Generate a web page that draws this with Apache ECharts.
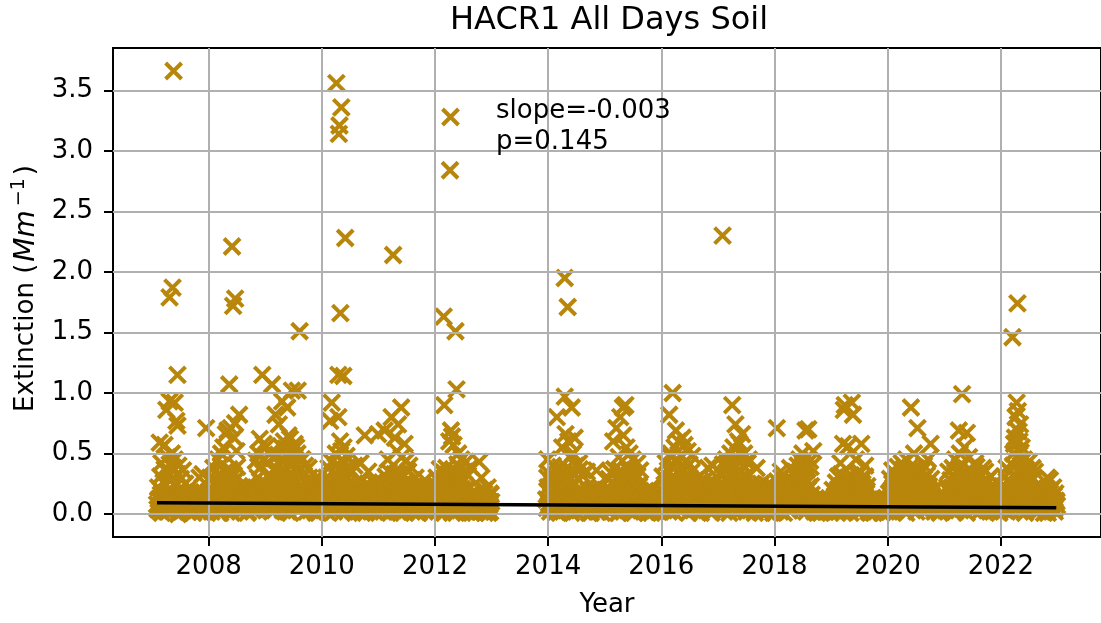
<!DOCTYPE html>
<html>
<head>
<meta charset="utf-8">
<title>HACR1 All Days Soil</title>
<script src="https://cdn.jsdelivr.net/npm/echarts@6/dist/echarts.min.js"></script>
<style>
  html, body { margin: 0; padding: 0; background: #fff; }
  #chart { width: 1101px; height: 623px; }
</style>
</head>
<body>
<div id="chart"></div>
<script>
// tick labels
const xTicks = [2008, 2010, 2012, 2014, 2016, 2018, 2020, 2022];
const yTicks = [0, 0.5, 1, 1.5, 2, 2.5, 3, 3.5];

// weekly background readings, one value every 7 days from the start day
const w2007 = [.08,.22,.03,.31,.14,.05,.26,.37,.1,.02,.19,.34,.07,.28,.12,.38,.04,.23,.16,.33,.01,.2,.29,.09,.36,.13,.25,
  .06,.17,.02,.12,.18,.08,.15,.03,.11,.17,.05,.14,.09,.18,.02,.13,.07,.16,.04,.12,.18];
const w2008 = [.12,.3,.04,.21,.38,.09,.17,.27,.02,.33,.14,.4,.07,.24,.19,.35,.05,.29,.11,.37,.16,.01,.26,.32,.08,.2,.39,.13,.23,
  .03,.15,.22,.07,.18,.1,.23,.02,.13,.2,.06,.16,.09,.21,.04,
  .18,.3,.08,.38,.14,.25,.45,.11];
const w2009 = [.2,.42,.06,.33,.5,.15,.27,.46,.03,.38,.22,.49,.11,.31,.44,.08,.36,.18,.48,.25,.02,.41,.13,.34,.47,.09,.29,.43,.17,.5,.05,.37,.23,.45,.12,.32,.4,
  .07,.24,.14,.3,.03,.19,.27,.1,.22,.01,.16,.28,.06,.2,.12];
const w2010 = [.1,.26,.04,.19,.3,.12,.38,.06,.27,.43,.15,.02,.33,.21,.41,.09,.29,.36,.05,.24,.42,.13,.31,.18,.39,.07,.26,.35,.11,.22,.4,.16,
  .03,.2,.09,.26,.14,.01,.18,.23,.07,.12,.25,.04,.17,.21,.08,.15,.26,.02,.19,.11];
const w2011 = [.05,.2,.11,.26,.02,
  .17,.31,.08,.25,.35,.13,.03,.28,.19,.33,.06,.22,.34,.1,.29,.01,.24,.15,.32,.07,.27,.18,.35,.12,.21,
  .04,.16,.23,.09,.19,.02,.14,.22,.06,.18,.11,.23,.03,.15,.2,.08,.13,.21,.01,.17,.1,.19];
const w2012 = [.14,.3,.06,.22,.37,.1,.27,.02,.34,.18,.38,.08,.25,.31,.04,.2,.36,.12,.28,.01,.33,.16,.24,.38,.07,.29,.13,.35,.05,.21,.32,.11,
  .03,.12,.17,.06,.14,.01,.1,.16,.08,.13,.02,.15,.09,.17,.04,.11,.14,.01,.08,.16];
const w2013 = [.12,.3];
const w2014 = [.18,.33,.05,.26,.4,.11,.3,.02,.36,.21,.14,.39,.08,.28,.34,.04,.23,.38,.12,.31,.17,.01,.35,.25,.09,.4,.15,.29,.06,.37,.2,.32,.1,
  .03,.16,.22,.07,.19,.12,.01,.2,.14,.05,.21,.09,.17,.02,.13,.22,.06,.18,.11];
const w2015 = [.07,.2,.13,.29,.03,.34,.16,.25,.37,.09,.22,.31,.01,.27,.36,.12,.19,.33,.06,.24,.37,.14,.3,.02,.21,.35,.1,.28,.17,.32,.05,.23,.36,.11,
  .04,.15,.08,.19,.12,.01,.17,.06,.13,.19,.03,.1,.16,.07,.18,.02,.14,.09];
const w2016 = [.15,.31,.06,.24,.42,.11,.36,.02,.28,.47,.19,.08,.39,.26,.45,.13,.33,.04,.48,.21,.37,.1,.3,.44,.16,.01,.41,.25,.35,
  .07,.2,.28,.12,.24,.03,.17,.27,.09,.22,.14,.28,.05,.19,.25,.1,.16,.01,.23,.13,.26,.06,.18];
const w2017 = [.09,.23,.34,.04,.41,.17,.29,.45,.12,.37,.01,.26,.43,.2,.32,.07,.39,.15,.44,.27,.05,.35,.22,.4,.11,.31,.02,.42,.18,
  .06,.16,.25,.1,.2,.03,.14,.23,.08,.18,.25,.01,.12,.21,.07,.17,.24,.04,.15,.2,.09,.13,.22];
const w2018 = [.05,.18,.27,.1,.22,.02,.3,.14,.25,.07,.2,.29,.12,.03,.24,.17,.28,.08,.21,
  .35,.11,.4,.26,.06,.33,.18,.41,.14,.29,.02,.37,.22,.09,.39,.16,
  .04,.11,.07,.13,.01,.09,.12,.05,.1,.03,.13,.08,.02,.11,.06,.12,.04];
const w2019 = [.08,.2,.03,.15,.26,.11,.31,.06,.22,.33,.14,.01,.28,.18,.09,.3,.24,.04,.32,.13,.19,.27,.07,.33,.16,.02,.25,.29,.1,.21,.05,.31,.17,.23,
  .02,.09,.12,.05,.13,.01,.08,.11,.04,.13,.07,.1,.02,.12,.06,.09,.13,.03];
const w2020 = [.04,.17,.29,.1,.36,.22,.02,.33,.14,.39,.26,.07,.31,.19,.37,.12,.24,.01,.35,.28,.09,.39,.16,.3,.05,.21,.38,.13,.27,.34,.08,.2,.36,.11,.25,.03,.32,.18,.23,.06,.29,.15,.2,
  .02,.1,.13,.05,.11,.01,.08,.13,.04];
const w2021 = [.06,.14,.22,.35,.1,.28,.03,.38,.17,.31,.24,.08,.36,.13,.27,.39,.05,.21,.33,.15,.01,.29,.37,.11,.25,.19,.34,.07,.3,.39,.14,.23,.02,.32,.18,.26,.09,.35,.12,.28,.04,.2,.31,.16,.24,.08,
  .03,.11,.06,.13,.01,.09];
const w2022 = [.1,.23,.04,.31,.17,.38,.08,.27,.35,.13,.02,.4,.21,.3,.06,.36,.15,.25,.39,.11,.33,.19,.01,.37,.24,.09,.32,.16,.28,.38,
  .05,.14,.22,.08,.18,.03,.2,.12,.22,.06,.16,.1,.21,.01,.14,.19,.07,.12,.22,.04,.17,.1];

// mid-week background readings, 3 days after the weekly ones
const m2007 = [.04,.12,.07,.16,.01,.1,.14,.05,.18,.09,.02,.13,.06,.17,.11,.03,.15,.08,.12,0,.16,.06,.1,.14,.03,.18,.07,.11,.02,.15,.09,.05,.13,.01,.1,.16,.04,.12,.07,.14,.02,.09,.15,.05,.11,.03,.13,.08];
const m2008 = [.06,.14,.02,.1,.17,.05,.12,.22,.08,.15,.01,.19,.11,.04,.25,.13,.07,.16,.21,.03,.12,.18,.09,.27,.05,.14,.2,.1,.02,.13,.07,.16,.04,.11,.15,.01,.09,.14,.06,.12,.03,.17,.08,.11,.05,.15,.12,.2,.07,.24,.1,.16];
const m2009 = [.13,.24,.07,.3,.16,.02,.21,.11,.27,.05,.18,.33,.09,.14,.25,.03,.2,.12,.29,.07,.17,.23,.01,.15,.28,.1,.19,.06,.26,.13,.22,.04,.17,.31,.08,.14,.2,.02,.11,.16,.05,.13,.09,.17,.03,.12,.07,.15,.01,.1,.14,.06];
const m2010 = [.05,.13,.08,.17,.02,.21,.11,.26,.06,.15,.19,.03,.24,.1,.14,.29,.07,.18,.01,.22,.12,.27,.04,.16,.2,.09,.25,.13,.03,.18,.11,.06,.14,.02,.1,.16,.05,.12,.08,.15,.01,.11,.17,.04,.09,.13,.06,.16,.02,.12,.07,.14];
const m2011 = [.09,.03,.14,.07,.12,.18,.04,.22,.1,.15,.01,.2,.13,.06,.24,.09,.17,.02,.21,.11,.16,.05,.19,.12,.23,.03,.14,.08,.2,.1,.02,.12,.07,.15,.04,.11,.01,.13,.08,.16,.05,.1,.03,.14,.09,.12,.02,.15,.06,.11,.04,.13];
const m2012 = [.07,.16,.02,.11,.2,.05,.14,.24,.09,.18,.03,.13,.22,.07,.17,.01,.26,.12,.19,.06,.15,.23,.04,.1,.21,.13,.08,.18,.02,.14,.11,.05,.09,.01,.12,.06,.1,.03,.13,.07,.11,.02,.09,.05,.12,.01,.08,.04,.11,.06,.02,.1];
const m2013 = [.05,.22];
const m2014 = [.09,.02,.15,.07,.21,.12,.04,.18,.26,.1,.01,.16,.23,.06,.13,.19,.03,.28,.11,.17,.05,.22,.14,.08,.25,.02,.18,.12,.2,.04,.15,.09,.13,.03,.1,.06,.14,.01,.08,.12,.04,.11,.07,.15,.02,.1,.05,.13,.08,.01,.12,.06];
const m2015 = [.04,.12,.08,.16,.02,.19,.1,.14,.24,.06,.17,.01,.21,.13,.09,.26,.05,.18,.11,.22,.03,.15,.2,.08,.13,.27,.01,.17,.1,.23,.06,.14,.19,.04,.1,.07,.13,.02,.09,.12,.05,.11,.01,.14,.08,.03,.12,.06,.1,.02,.13,.07];
const m2016 = [.08,.19,.03,.14,.25,.1,.21,.05,.17,.3,.12,.02,.23,.15,.27,.07,.2,.11,.33,.04,.18,.24,.09,.28,.13,.06,.22,.16,.19,.03,.13,.09,.17,.05,.12,.2,.01,.15,.1,.18,.06,.14,.08,.16,.02,.12,.19,.07,.11,.15,.04,.1];
const m2017 = [.12,.05,.18,.1,.24,.02,.16,.27,.08,.2,.14,.31,.04,.19,.11,.25,.07,.22,.15,.29,.03,.17,.12,.26,.06,.21,.09,.23,.14,.03,.11,.07,.15,.01,.12,.18,.05,.09,.14,.02,.11,.16,.06,.1,.13,.03,.08,.12,.05,.15,.01,.1];
const m2018 = [.02,.11,.07,.15,.04,.13,.09,.18,.01,.12,.06,.16,.1,.03,.14,.08,.19,.05,.11,.24,.13,.07,.21,.16,.28,.04,.18,.11,.25,.09,.2,.14,.06,.23,.12,.07,.02,.09,.05,.1,.03,.08,.01,.07,.04,.09,.02,.06,.1,.03,.08,.05];
const m2019 = [.05,.12,.09,.18,.02,.14,.21,.07,.16,.11,.24,.04,.13,.19,.08,.22,.15,.01,.17,.1,.23,.06,.14,.2,.11,.03,.18,.12,.25,.07,.15,.1,.19,.04,.06,.01,.08,.03,.1,.05,.07,.02,.09,.04,.11,.06,.01,.08,.05,.1,.02,.07];
const m2020 = [.09,.02,.13,.2,.06,.17,.11,.25,.04,.15,.21,.08,.18,.12,.27,.03,.14,.22,.1,.19,.05,.16,.24,.09,.13,.2,.02,.17,.11,.23,.06,.15,.26,.1,.18,.04,.14,.21,.08,.12,.17,.05,.11,.07,.03,.09,.05,.1,.02,.07,.04,.08];
const m2021 = [.03,.08,.12,.19,.06,.15,.22,.1,.17,.02,.24,.13,.07,.2,.11,.26,.04,.16,.21,.09,.14,.23,.06,.18,.12,.27,.03,.15,.2,.08,.17,.11,.22,.05,.14,.19,.1,.24,.07,.13,.18,.02,.15,.09,.2,.12,.04,.09,.02,.07,.05,.1];
const m2022 = [.06,.14,.19,.03,.22,.1,.16,.26,.08,.2,.13,.24,.05,.17,.29,.11,.21,.02,.18,.25,.09,.15,.23,.12,.06,.2,.14,.27,.1,.17,.03,.12,.08,.15,.02,.11,.06,.14,.09,.01,.12,.07,.16,.04,.1,.13,.05,.09,.15,.02,.11,.07];

// higher readings: [day of year, extinction]
const p2007 = [[139,3.66],[132,1.87],[113,1.79],[164,1.15],[113,.93],[146,.92],[92,.86],[157,.77],[164,.73],[49,.59],[81,.57],[128,.5],[146,.45],[113,.41],[100,.47],[170,.4],[306,.3],[325,.33],[349,.71],[60,.42]];
const p2008 = [[151,2.21],[171,1.78],[158,1.72],[133,1.07],[197,.82],[143,.71],[111,.66],[164,.63],[171,.75],[122,.69],[95,.55],[80,.5],[180,.52],[304,.44],[346,1.15],[330,.62],[320,.5],[355,.58],[60,.45]];
const p2009 = [[3,.55],[44,1.07],[66,.82],[88,.74],[109,.93],[142,.88],[172,1.02],[210,1.02],[222,1.51],[120,.6],[150,.65],[190,.58],[100,.56],[160,.62],[200,.55],[240,.45],[130,.54],[280,.38]];
const p2010 = [[94,3.56],[126,3.36],[114,3.21],[110,3.14],[151,2.28],[120,1.66],[107,1.15],[139,1.14],[64,.92],[107,.8],[54,.77],[126,.52],[118,.6],[140,.55],[160,.48],[277,.65],[363,.66],[250,.42],[90,.5],[300,.35]];
const p2011 = [[95,2.14],[85,.8],[147,.88],[127,.74],[106,.63],[169,.58],[40,.69],[120,.52],[150,.47],[180,.44],[60,.45],[200,.4],[240,.3],[300,.28]];
const p2012 = [[100,3.28],[97,2.84],[56,1.63],[132,1.51],[139,1.03],[60,.9],[103,.69],[110,.64],[120,.57],[92,.6],[145,.41],[230,.39],[318,.2],[170,.45],[200,.43],[150,.5],[285,.43],[300,.3],[340,.22],[355,.17]];
const p2013 = [[360,.45]];
const p2014 = [[107,1.95],[126,1.71],[107,.97],[56,.8],[152,.88],[112,.66],[171,.63],[130,.6],[90,.55],[160,.5],[140,.47],[312,.36],[200,.42],[250,.35]];
const p2015 = [[117,.88],[133,.9],[75,.71],[54,.6],[140,.55],[100,.8],[120,.65],[160,.5],[180,.45],[90,.47],[210,.42]];
const p2016 = [[73,1.0],[51,.82],[94,.69],[137,.63],[110,.6],[85,.55],[150,.57],[170,.52],[60,.5],[200,.48],[300,.38],[330,.4]];
const p2017 = [[30,2.3],[92,.9],[113,.74],[156,.66],[130,.6],[100,.55],[170,.5],[80,.5],[140,.58],[200,.45],[60,.42],[250,.38]];
const p2018 = [[15,.71],[200,.69],[218,.7],[250,.52],[180,.5],[160,.45],[230,.44],[40,.35],[100,.38]];
const p2019 = [[88,.9],[82,.86],[141,.82],[134,.92],[77,.58],[195,.58],[110,.56],[188,.34],[160,.45],[60,.42],[220,.4]];
const p2020 = [[150,.88],[192,.71],[277,.58],[234,.4],[120,.45],[170,.5],[90,.42],[260,.45]];
const p2021 = [[115,.99],[94,.69],[146,.67],[130,.55],[100,.5],[160,.47],[70,.45],[200,.42],[250,.38]];
const p2022 = [[107,1.74],[75,1.46],[102,.92],[124,.74],[91,.63],[128,.51],[95,.8],[110,.85],[115,.68],[100,.7],[85,.58],[120,.6],[135,.55],[80,.5],[150,.45],[317,.28],[300,.3],[180,.43],[220,.35]];

// linear fit end points
const trendX = [2007.088, 2022.98];
const trendY = [0.093, 0.052];

// [year, first day, values] -> readings every 7 days
const weekly = [
  [2007, 32, w2007], [2008, 2, w2008], [2009, 5, w2009], [2010, 1, w2010],
  [2011, 4, w2011], [2012, 3, w2012], [2013, 352, w2013],
  [2014, 2, w2014], [2015, 5, w2015], [2016, 0, w2016], [2017, 4, w2017],
  [2018, 2, w2018], [2019, 3, w2019], [2020, 1, w2020], [2021, 5, w2021], [2022, 2, w2022],
  [2007, 35, m2007], [2008, 5, m2008], [2009, 8, m2009], [2010, 4, m2010],
  [2011, 7, m2011], [2012, 6, m2012], [2013, 355, m2013],
  [2014, 5, m2014], [2015, 8, m2015], [2016, 3, m2016], [2017, 7, m2017],
  [2018, 5, m2018], [2019, 6, m2019], [2020, 4, m2020], [2021, 8, m2021], [2022, 5, m2022]
];
const peaks = [
  [2007, p2007], [2008, p2008], [2009, p2009], [2010, p2010], [2011, p2011], [2012, p2012],
  [2013, p2013], [2014, p2014], [2015, p2015], [2016, p2016], [2017, p2017], [2018, p2018],
  [2019, p2019], [2020, p2020], [2021, p2021], [2022, p2022]
];

const points = [];
weekly.forEach(([yr, start, vals]) => {
  vals.forEach((v, i) => points.push([yr + (start + 7 * i) / 365, v]));
});
peaks.forEach(([yr, list]) => {
  list.forEach(([d, v]) => points.push([yr + d / 365, v]));
});

const FONT = 'DejaVu Sans';
const GOLD = '#b8860b';

const chart = echarts.init(document.getElementById('chart'), null, { renderer: 'canvas' });
chart.setOption({
  animation: false,
  backgroundColor: '#fff',
  textStyle: { fontFamily: FONT },
  title: {
    text: 'HACR1 All Days Soil',
    left: 450, top: 5, padding: 0,
    textStyle: { fontSize: 32, fontWeight: 'normal', color: '#000', fontFamily: FONT }
  },
  grid: {
    left: 113, top: 48, width: 995, height: 492,
    show: true, borderColor: '#000', borderWidth: 2, backgroundColor: 'transparent', z: 3
  },
  xAxis: {
    type: 'value',
    min: 2006.31, max: 2023.77,
    minInterval: 2, maxInterval: 2,
    z: 3,
    name: 'Year', nameLocation: 'middle', nameGap: 55,
    nameTextStyle: { fontSize: 26, color: '#000', fontFamily: FONT },
    axisLine: { show: false, onZero: false },
    axisTick: { show: true, length: 9, lineStyle: { color: '#000', width: 2 }, customValues: xTicks },
    axisLabel: {
      fontSize: 26, color: '#000', margin: 17, fontFamily: FONT,
      customValues: xTicks,
      formatter: v => String(Math.round(v))
    },
    splitLine: { show: true, lineStyle: { color: '#b0b0b0', width: 2 } }
  },
  yAxis: {
    type: 'value',
    min: -0.19, max: 3.85,
    minInterval: 0.5, maxInterval: 0.5,
    z: 3,
    name: 'Extinction ({it|Mm}{sup|−1})', nameLocation: 'middle', nameGap: 70,
    nameTextStyle: {
      fontSize: 26, color: '#000', fontFamily: FONT, padding: [0, 0, 0, 8],
      rich: {
        it: { fontSize: 28, fontStyle: 'italic', fontFamily: FONT, color: '#000', padding: [0, 4, 0, 2] },
        sup: { fontSize: 19, fontFamily: FONT, color: '#000', padding: [0, 3, 14, 0] }
      }
    },
    axisLine: { show: false, onZero: false },
    axisTick: { show: true, length: 9, lineStyle: { color: '#000', width: 2 }, customValues: yTicks },
    axisLabel: {
      fontSize: 26, color: '#000', margin: 20, fontFamily: FONT,
      customValues: yTicks,
      formatter: v => v.toFixed(1)
    },
    splitLine: { show: true, lineStyle: { color: '#b0b0b0', width: 2 } }
  },
  graphic: [{
    type: 'text', left: 496, top: 96, z: 10,
    style: { text: 'slope=-0.003\np=0.145', fontSize: 26, fontFamily: FONT, fill: '#000', lineHeight: 31 }
  }],
  series: [
    {
      type: 'scatter',
      data: points,
      z: 2,
      silent: true,
      symbol: 'path://M0 0L10 10M10 0L0 10',
      symbolSize: 16,
      itemStyle: { color: GOLD, borderColor: GOLD, borderWidth: 4, opacity: 1 }
    },
    {
      type: 'line',
      data: trendX.map((x, i) => [x, trendY[i]]),
      z: 5,
      silent: true,
      showSymbol: false,
      lineStyle: { color: '#000', width: 3.5 }
    }
  ]
});
</script>
</body>
</html>
